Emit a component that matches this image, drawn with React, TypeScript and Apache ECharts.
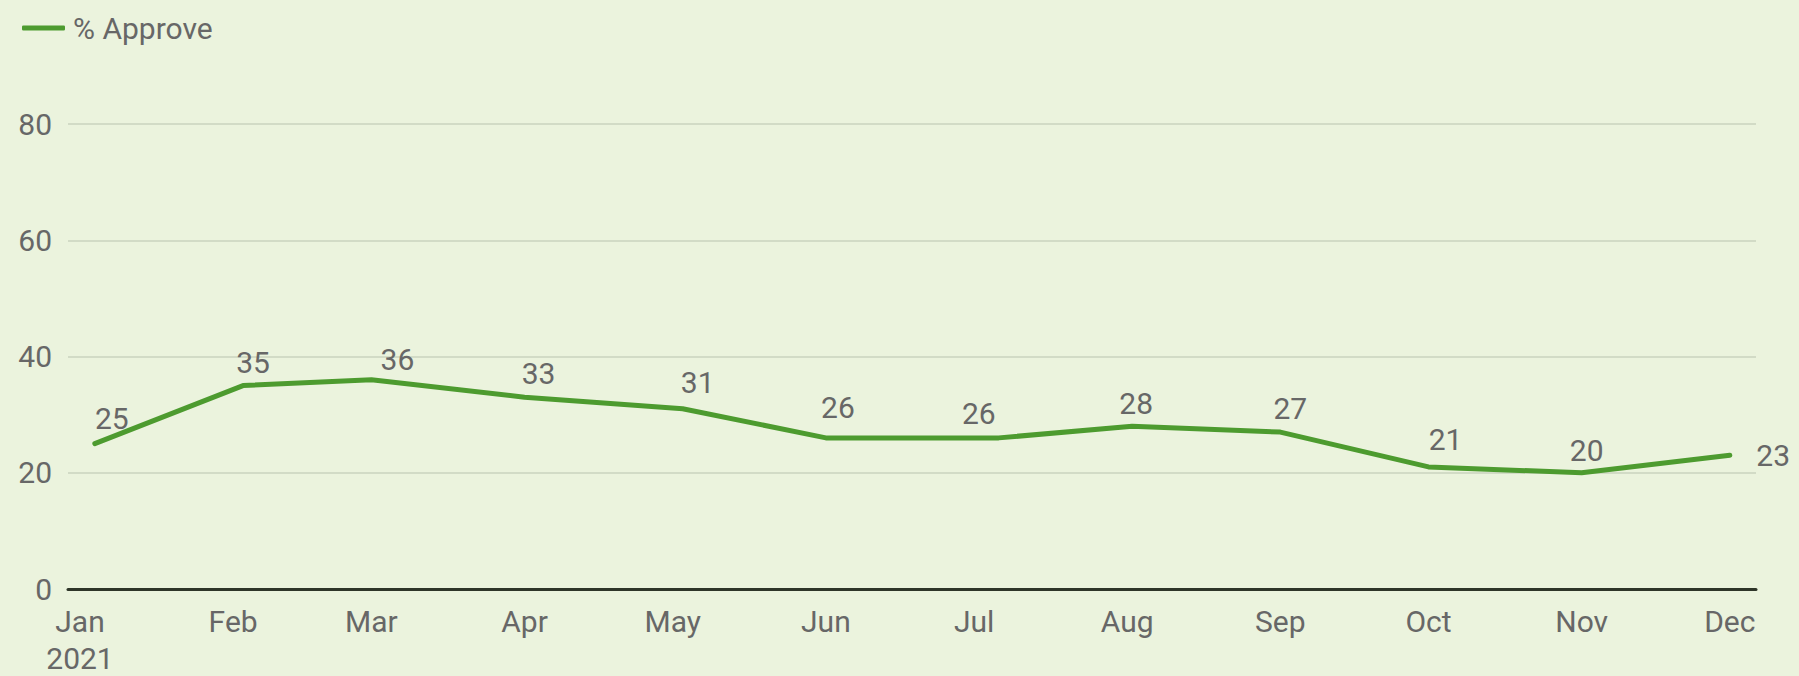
import React, { useEffect, useRef } from "react";
import * as echarts from "echarts";

// Poll dates (start of each monthly poll) and % approve
const pollDates = [
  "2021-01-04", "2021-02-03", "2021-03-01", "2021-04-01", "2021-05-03", "2021-06-01",
  "2021-07-06", "2021-08-02", "2021-09-01", "2021-10-01", "2021-11-01", "2021-12-01",
];
const approveValues = [25, 35, 36, 33, 31, 26, 26, 28, 27, 21, 20, 23];
const seriesName = "% Approve";

// x-axis tick labels (month starts)
const monthStarts = [
  "2021-01-01", "2021-02-01", "2021-03-01", "2021-04-01", "2021-05-01", "2021-06-01",
  "2021-07-01", "2021-08-01", "2021-09-01", "2021-10-01", "2021-11-01", "2021-12-01",
];
const monthLabels = ["Jan\n2021", "Feb", "Mar", "Apr", "May", "Jun", "Jul", "Aug", "Sep", "Oct", "Nov", "Dec"];
const yTicks = [0, 20, 40, 60, 80];

// label nudges (styling only)
const labelShift: number[][] = [
  [17, -1], [10, 1], [26, 4], [14, 1], [15, -2], [12, -6],
  [-20, 0], [4, 2], [10, 1], [17, -3], [5, 2], [0, 0],
];

const DAY = 86400000;
const toTs = (s: string) => {
  const [y, m, d] = s.split("-").map(Number);
  return Date.UTC(y, m - 1, d);
};
const JAN1 = toTs("2021-01-01");
// days since 1 Jan 2021
const toDay = (s: string) => (toTs(s) - JAN1) / DAY;

export default function App() {
  const ref = useRef<HTMLDivElement>(null);
  useEffect(() => {
    if (!ref.current) return;
    const chart = echarts.init(ref.current, undefined, { renderer: "svg" });
    const ticks = monthStarts.map(toDay);
    const textColor = "#676767";
    const green = "#4d9b2f";
    const font = "Roboto";
    const lastIdx = approveValues.length - 1;
    const data = pollDates.map((d, i) => ({
      value: [toDay(d), approveValues[i]],
      label:
        i === lastIdx
          ? { position: "right", distance: 26 }
          : { position: "top", distance: 9 },
    }));
    chart.setOption({
      animation: false,
      backgroundColor: "#ebf3dd",
      textStyle: { fontFamily: font },
      legend: {
        left: 17,
        top: 8,
        itemWidth: 43,
        itemHeight: 5,
        textStyle: { fontSize: 30, color: textColor, fontFamily: font, padding: [0, 0, 0, 3] },
        itemStyle: { color: green, borderWidth: 0, opacity: 1 },
        data: [{ name: seriesName, icon: "roundRect", itemStyle: { color: green, opacity: 1 } }],
      },
      grid: { left: 68, right: 43, top: 124, bottom: 87, outerBoundsMode: "none" },
      xAxis: {
        type: "value",
        min: -2.43,
        max: 339.3,
        axisLine: { show: true, onZero: false, lineStyle: { color: "#2e3528", width: 3 } },
        axisTick: { show: false },
        splitLine: { show: false },
        axisLabel: {
          customValues: ticks,
          fontSize: 30,
          lineHeight: 37,
          color: textColor,
          fontFamily: font,
          margin: 14,
          hideOverlap: false,
          showMinLabel: true,
          showMaxLabel: true,
          formatter: (v: number) => {
            const idx = ticks.findIndex((t) => Math.abs(t - v) < 0.5);
            return idx >= 0 ? monthLabels[idx] : "";
          },
        },
      },
      yAxis: {
        type: "value",
        min: yTicks[0],
        max: yTicks[yTicks.length - 1],
        interval: 20,
        axisLine: { show: false },
        axisTick: { show: false },
        splitLine: { lineStyle: { color: "#d2dbc6", width: 2 } },
        axisLabel: { fontSize: 30, color: textColor, fontFamily: font, margin: 16 },
      },
      series: [
        {
          name: seriesName,
          type: "line",
          data,
          symbol: "circle",
          symbolSize: 1,
          showSymbol: true,
          lineStyle: { color: green, width: 5, cap: "round", join: "round" },
          itemStyle: { color: "rgba(0,0,0,0)", borderWidth: 0 },
          label: {
            show: true,
            fontSize: 30,
            color: textColor,
            fontFamily: font,
            formatter: (p: any) => String(p.value[1]),
          },
          labelLayout: (p: any) => {
            const s = labelShift[p.dataIndex] || [0, 0];
            return { dx: s[0], dy: s[1], hideOverlap: false };
          },
        },
      ],
    });
    return () => chart.dispose();
  }, []);
  return (
    <div
      ref={ref}
      style={{ position: "fixed", left: 0, top: 0, width: 1799, height: 676 }}
    />
  );
}
